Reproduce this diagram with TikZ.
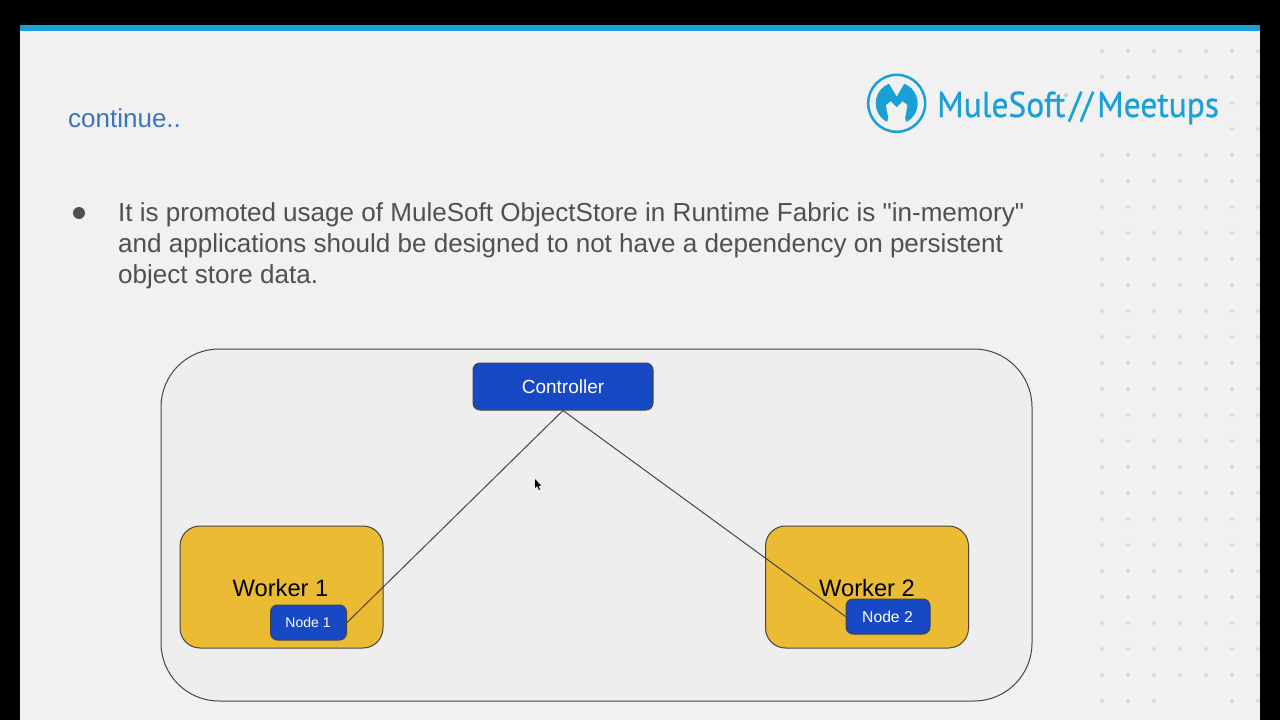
\documentclass[tikz,border=0pt]{standalone}
\usepackage{fontspec}
\setmainfont{Liberation Sans}
\newfontfamily\bodyfont{Liberation Sans}
\newfontfamily\logofont[FakeStretch=0.93, FakeBold=0.6]{PT Sans}
\usepackage{tikz}
\usetikzlibrary{calc, positioning}
\definecolor{pagegray}{HTML}{F1F1F1}
\definecolor{panelgray}{HTML}{EEEEEE}
\definecolor{muleblue}{HTML}{1A9FD6}
\definecolor{boxblue}{HTML}{1749C4}
\definecolor{workeryellow}{HTML}{EABB33}
\definecolor{edgegray}{HTML}{444444}
\definecolor{bodygray}{HTML}{505050}
\definecolor{titleblue}{HTML}{3D74B8}
\definecolor{dotgray}{HTML}{D2DDE3}
\tikzset{
    workerbox/.style={rectangle, draw=edgegray, line width=1pt, fill=workeryellow, rounded corners=20pt, minimum width=203pt, minimum height=122pt, inner sep=0pt},
    bluebox/.style={rectangle, draw=edgegray, line width=1pt, fill=boxblue, rounded corners=7pt, text=white, inner sep=0pt},
    link/.style={draw=edgegray, line width=1pt},
    logotext/.style={anchor=base west, inner sep=0pt, text=muleblue, font=\logofont\pxfont{36}},
}
\newcommand{\pxfont}[1]{\fontsize{#1}{#1}\selectfont}

\begin{document}
\begin{tikzpicture}[x=1pt, y=-1pt]
    \useasboundingbox (0,0) rectangle (1280,720);
    \fill[pagegray] (0,0) rectangle (1280,720);

    % dots on the right
    \foreach \i in {0,...,6} {
        \foreach \j in {0,...,25} {
            \pgfmathparse{((\j==2 || \j==3) && \i<5) || (\j==25 && \i>2 && \i<5) ? 0 : 1}
            \ifnum\pgfmathresult=1
                \fill[dotgray] (1102+26*\i, 51+26*\j) circle (2pt);
            \fi
        }
    }

    % frame
    \fill[black] (0,0) rectangle (20,720);
    \fill[black] (1260,0) rectangle (1280,720);
    \fill[black] (0,0) rectangle (1280,25);
    \fill[muleblue] (20,25) rectangle (1260,31);

    % title and text
    \node[anchor=base west, inner sep=0pt, text=titleblue, font=\pxfont{26}] (title) at (68,127) {continue..};
    \fill[bodygray] (79,213) circle (6pt);
    \node[anchor=north west, inner sep=0pt, align=left, text=bodygray, font=\bodyfont\fontsize{26.05}{31}\selectfont] (body) at (118,202.5) {It is promoted usage of MuleSoft ObjectStore in Runtime Fabric is "in-memory"\\and applications should be designed to not have a dependency on persistent\\object store data.};

    % logo
    \node[circle, draw=muleblue, line width=2.5pt, minimum size=57pt, inner sep=0pt] (ring) at (896.7,103.3) {};
    \fill[muleblue] (ring.center) circle (21pt);
    \fill[pagegray] (887,80) -- (896.7,96.3) -- (906.4,80) -- cycle;
    \fill[pagegray] (896.7,107.3) -- (890.7,101.3) -- (886,105.3) -- (888.3,118) -- (886,126) -- (907.4,126) -- (905.1,118) -- (907.4,105.3) -- (902.7,101.3) -- cycle;
    \node[logotext] (mule) at (937,117) {MuleSoft};
    \node[logotext] (meetups) at (1097,117) {Meetups};
    \node[logotext] (slashes) at (1069,117) {//};
    \node[anchor=base west, inner sep=0pt, text=muleblue, font=\pxfont{5}] (regmark) at (1064,97) {®};

    % diagram
    \draw[edgegray, line width=1pt, fill=panelgray, rounded corners=58pt] (161,349) rectangle (1032,701);
    \node[bluebox, minimum width=180pt, minimum height=47pt, font=\pxfont{19}] (controller) at (563,386.5) {Controller};
    \node[workerbox] (worker1) at (281.5,587) {};
    \node[workerbox] (worker2) at (867,587) {};
    \node[inner sep=0pt, font=\pxfont{23.7}] (label1) at (280.5,588) {Worker 1};
    \node[inner sep=0pt, font=\pxfont{23.7}] (label2) at (867,588) {Worker 2};
    \node[bluebox, minimum width=76pt, minimum height=35pt, font=\pxfont{14}] (node1) at (308.5,622.5) {\hspace*{-1pt}Node 1};
    \node[bluebox, minimum width=84pt, minimum height=35pt, font=\pxfont{15.7}] (node2) at (888,616.5) {\hspace*{-1pt}Node 2};
    \draw[link] (controller.south) -- (node1.east);
    \draw[link] (controller.south) -- (node2.west);

    % mouse pointer
    \fill[black] (535,479) -- (535,488) -- (537,486) -- (539,490) -- (540,489.5) -- (538.5,486) -- (541,485.5) -- cycle;
\end{tikzpicture}
\end{document}
